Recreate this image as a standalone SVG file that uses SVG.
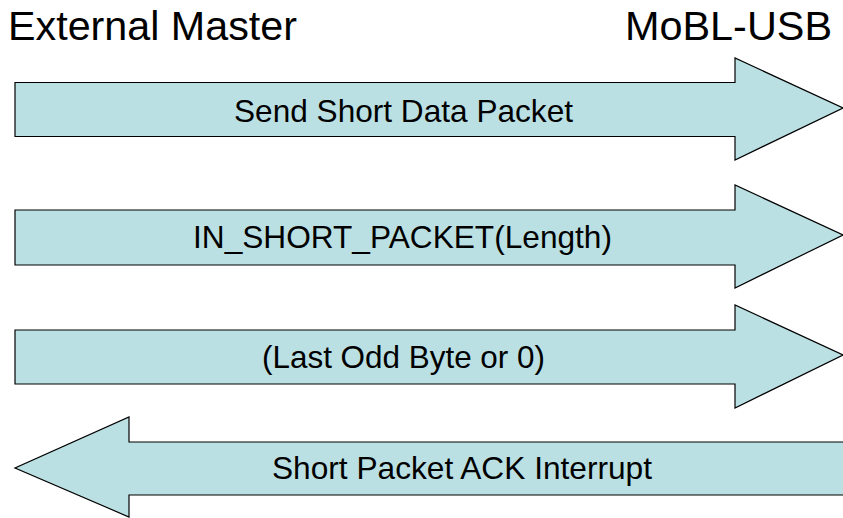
<svg xmlns="http://www.w3.org/2000/svg" width="843" height="518" viewBox="0 0 843 518">
<style>
.arrow{fill:#BBE0E3;stroke:#000;stroke-width:1.2;stroke-linejoin:miter}
.lbl{font-family:"Liberation Sans",Arial,sans-serif;font-size:31.5px;fill:#000}
.hdr{font-family:"Liberation Sans",Arial,sans-serif;font-size:41px;fill:#000}
</style>
<rect width="843" height="518" fill="#fff"/>
<g id="header-external-master"><text class="hdr" x="8" y="40" textLength="289" lengthAdjust="spacingAndGlyphs">External Master</text></g>
<g id="header-mobl-usb"><text class="hdr" x="625" y="40" textLength="207" lengthAdjust="spacingAndGlyphs">MoBL-USB</text></g>
<g id="connectors">
<g id="msg1">
<polygon class="arrow" points="15,82.5 735,82.5 735,58 843,108 735,160 735,136.5 15,136.5"/>
<text class="lbl" x="234" y="121.5" textLength="339" lengthAdjust="spacingAndGlyphs">Send Short Data Packet</text>
</g>
<g id="msg2">
<polygon class="arrow" points="15,210 735,210 735,185 843,235 735,288 735,265 15,265"/>
<text class="lbl" x="193" y="247.5" textLength="419" lengthAdjust="spacingAndGlyphs">IN_SHORT_PACKET(Length)</text>
</g>
<g id="msg3">
<polygon class="arrow" points="15,330 735,330 735,305 843,355 735,408 735,384 15,384"/>
<text class="lbl" x="262" y="367.5" textLength="283" lengthAdjust="spacingAndGlyphs">(Last Odd Byte or 0)</text>
</g>
<g id="msg4">
<polygon class="arrow" points="850,442 129,442 129,417 15,468 129,517 129,495 850,495"/>
<text class="lbl" x="272" y="478.5" textLength="380" lengthAdjust="spacingAndGlyphs">Short Packet ACK Interrupt</text>
</g>
</g>
</svg>
